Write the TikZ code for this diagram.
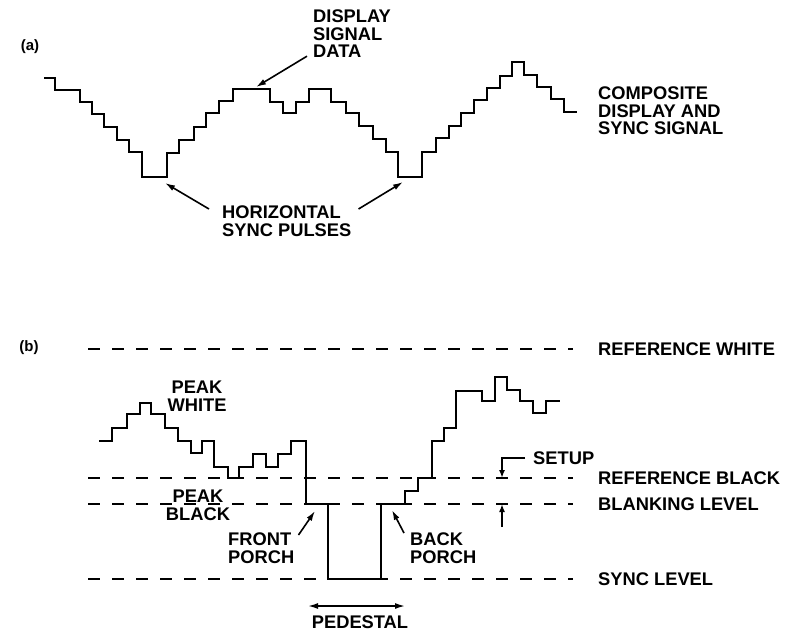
\documentclass[tikz,border=0pt]{standalone}
\usepackage{fontspec}
\setmainfont{Liberation Sans}
\usetikzlibrary{arrows.meta}

\begin{document}
\begin{tikzpicture}[>={Latex[length=10pt,width=6pt]},x=1pt,y=-1pt,
  lbl/.style={inner sep=0pt,font=\fontsize{18.3}{17.5}\selectfont\bfseries,align=left},
  tag/.style={inner sep=0pt,font=\fontsize{15}{15}\selectfont\bfseries},
  wave/.style={line width=2.6pt},
  level/.style={line width=1.7pt,dash pattern=on 12pt off 12pt},
  pointer/.style={line width=1.6pt,->}]
\useasboundingbox (0,0) rectangle (799,632);

\node[tag] (taga) at (30,47) {(a)};
\draw[wave] (44,78) -| (55,90) -| (80,102) -| (92,114) -| (104,127) -| (117,140) -| (129,152) -| (142,177) -| (167,153) -| (179,140) -| (194,127) -| (206,113) -| (219,101) -| (233,89) -| (270,102) -| (283,113) -| (296,102) -| (309,89) -| (331,102) -| (346,113) -| (359,126) -| (373,139) -| (386,152) -| (398,177) -| (422,152) -| (436,138) -| (449,126) -| (461,113) -| (474,100) -| (487,88) -| (500,76) -| (512,62) -| (524,75) -| (537,87) -| (551,99) -| (564,112) -- (577,112);
\node[lbl,anchor=north west] (dsd) at (313,10) {DISPLAY\\SIGNAL\\DATA};
\node[lbl,anchor=north west] (cds) at (598,87) {COMPOSITE\\DISPLAY AND\\SYNC SIGNAL};
\node[lbl,anchor=north west] (hsp) at (222,206) {HORIZONTAL\\SYNC PULSES};
\coordinate (datatip) at (256,87);
\coordinate (synctipa) at (165,183);
\coordinate (synctipb) at (403,182);
\draw[pointer] ([shift={(-6,-2)}]dsd.south west) -- (datatip);
\draw[pointer] ([shift={(-13,3)}]hsp.north west) -- (synctipa);
\draw[pointer] ([shift={(7,3)}]hsp.north east) -- (synctipb);

\node[tag] (tagb) at (29,348) {(b)};
\node[lbl,anchor=west] (rwhite) at (598,349) {REFERENCE WHITE};
\node[lbl,anchor=west] (rblack) at (598,478) {REFERENCE BLACK};
\node[lbl,anchor=west] (blank) at (598,504) {BLANKING LEVEL};
\node[lbl,anchor=west] (synclvl) at (598,579) {SYNC LEVEL};
\draw[level] (88,349) -- (573,349);
\draw[level] (88,478) -- (573,478);
\draw[level] (88,504) -- (573,504);
\draw[level] (88,579) -- (573,579);
\draw[wave] (99,441) -| (112,428) -| (127,414) -| (140,403) -| (151,414) -| (165,428) -| (178,441) -| (191,453) -| (202,441) -| (214,467) -| (228,478) -| (239,467) -| (253,454) -| (266,467) -| (278,454) -| (291,441) -| (306,504) -| (328,579) -| (381,504) -| (405,491) -| (418,478) -| (432,441) -| (444,428) -| (456,391) -| (482,401) -| (495,377) -| (507,390) -| (520,401) -| (533,413) -| (546,401) -- (560,401);
\node[lbl,anchor=north,align=center] (pkwhite) at (197,381) {PEAK\\WHITE};
\node[lbl,anchor=north,align=center] (pkblack) at (198,490) {PEAK\\BLACK};
\node[lbl,anchor=north west] (fporch) at (228,533) {FRONT\\PORCH};
\node[lbl,anchor=north west] (bporch) at (410,533) {BACK\\PORCH};
\node[lbl,anchor=west] (setup) at (533,458) {SETUP};
\node[lbl,anchor=north] (pedestal) at (360,616) {PEDESTAL};
\coordinate (fptip) at (315,511);
\coordinate (bptip) at (392,510);
\coordinate (setuptip) at (502,478);
\coordinate (blankfoot) at (502,527);
\coordinate (blanktip) at (502,504);
\coordinate (pedl) at (308,606);
\coordinate (pedr) at (405,606);
\draw[pointer] ([shift={(4,2)}]fporch.north east) -- (fptip);
\draw[pointer] ([shift={(-6,0)}]bporch.north west) -- (bptip);
\draw[pointer,>={Latex[length=8pt,width=6pt]}] ([xshift=-8pt]setup.west) -| (setuptip);
\draw[pointer,>={Latex[length=8pt,width=6pt]}] (blankfoot) -- (blanktip);
\draw[pointer,<->] (pedl) -- (pedr);
\end{tikzpicture}
\end{document}
